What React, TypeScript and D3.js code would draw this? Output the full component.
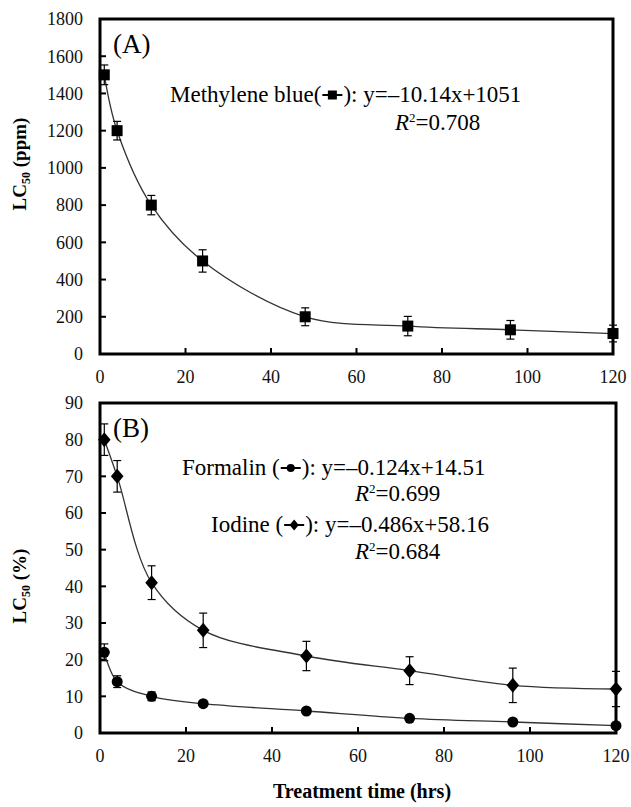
import React, { useEffect, useRef } from 'react';
import * as d3 from 'd3';

const hours = [1, 4, 12, 24, 48, 72, 96, 120];
const methyleneBlue = [1500, 1200, 800, 500, 200, 150, 130, 110];
const methyleneBlueErr = [53, 50, 52, 60, 48, 52, 50, 45];
const formalin = [22, 14, 10, 8, 6, 4, 3, 2];
const formalinErr = [2.3, 1.6, 1.2, 0.6, 0.6, 0.5, 0.5, 0.5];
const iodine = [80, 70, 41, 28, 21, 17, 13, 12];
const iodineErr = [4.3, 4.3, 4.6, 4.7, 4.0, 3.8, 4.7, 4.8];
const xTicks = [0, 20, 40, 60, 80, 100, 120];
const yTicksA = [0, 200, 400, 600, 800, 1000, 1200, 1400, 1600, 1800];
const yTicksB = [0, 10, 20, 30, 40, 50, 60, 70, 80, 90];

const FONT = "'Liberation Serif', 'Times New Roman', serif";

type Marker = 'square' | 'circle' | 'diamond';

function drawMarker(g: any, kind: Marker, x: number, y: number, s: number) {
  if (kind === 'square') {
    g.append('rect').attr('x', x - s / 2).attr('y', y - s / 2).attr('width', s).attr('height', s).attr('fill', '#000');
  } else if (kind === 'circle') {
    g.append('circle').attr('cx', x).attr('cy', y).attr('r', s / 2).attr('fill', '#000');
  } else {
    const w = s * 0.42, h = s * 0.5;
    g.append('path').attr('d', `M${x},${y - h}L${x + w},${y}L${x},${y + h}L${x - w},${y}Z`).attr('fill', '#000');
  }
}

export default function App() {
  const ref = useRef<SVGSVGElement>(null);

  useEffect(() => {
    const svg = d3.select(ref.current);
    svg.selectAll('*').remove();

    const panel = (
      x0: number, x1: number, y0: number, y1: number,
      yMax: number, yTicks: number[], letter: string
    ) => {
      const x = d3.scaleLinear().domain([0, 120]).range([x0, x1]);
      const y = d3.scaleLinear().domain([0, yMax]).range([y1, y0]);
      const g = svg.append('g');
      yTicks.forEach((t) => {
        if (t !== 0 && t !== yMax) g.append('line').attr('x1', x0).attr('x2', x0 + 6).attr('y1', y(t)).attr('y2', y(t)).attr('stroke', '#000').attr('stroke-width', 2);
        g.append('text').attr('x', x0 - 17).attr('y', y(t)).attr('dy', '0.35em').attr('text-anchor', 'end')
          .attr('font-family', FONT).attr('font-size', 18).attr('fill', '#111').text(String(t));
      });
      xTicks.forEach((t) => {
        if (t !== 0 && t !== 120) g.append('line').attr('x1', x(t)).attr('x2', x(t)).attr('y1', y1).attr('y2', y1 - 6).attr('stroke', '#000').attr('stroke-width', 2);
        g.append('text').attr('x', x(t)).attr('y', y1 + 29).attr('text-anchor', 'middle')
          .attr('font-family', FONT).attr('font-size', 18).attr('fill', '#111').text(String(t));
      });
      g.append('rect').attr('x', x0).attr('y', y0).attr('width', x1 - x0).attr('height', y1 - y0)
        .attr('fill', 'none').attr('stroke', '#000').attr('stroke-width', 3);
      g.append('text').attr('x', x0 + 13).attr('y', y0 + 34).attr('font-family', FONT).attr('font-size', 27).text(letter);
      return { x, y, g };
    };

    const series = (p: any, vals: number[], errs: number[], kind: Marker, size: number) => {
      const pts = hours.map((h, i) => [p.x(h), p.y(vals[i])] as [number, number]);
      const line = d3.line().curve(d3.curveCatmullRom.alpha(0.5));
      p.g.append('path').attr('d', line(pts)).attr('fill', 'none').attr('stroke', '#333').attr('stroke-width', 1.3);
      hours.forEach((h, i) => {
        const cx = p.x(h);
        const top = p.y(vals[i] + errs[i]);
        const bot = p.y(vals[i] - errs[i]);
        p.g.append('line').attr('x1', cx).attr('x2', cx).attr('y1', top).attr('y2', bot).attr('stroke', '#000').attr('stroke-width', 1.2);
        [top, bot].forEach((yy) => p.g.append('line').attr('x1', cx - 4).attr('x2', cx + 4).attr('y1', yy).attr('y2', yy).attr('stroke', '#000').attr('stroke-width', 1.2));
      });
      hours.forEach((h, i) => drawMarker(p.g, kind, p.x(h), p.y(vals[i]), size));
    };

    const LF = 23;
    const legend = (x0: number, yb: number, pre: string, post: string, kind: Marker, size: number) => {
      const t1 = svg.append('text').attr('x', x0).attr('y', yb).attr('font-family', FONT).attr('font-size', LF).text(pre);
      const w1 = (t1.node() as SVGTextElement).getComputedTextLength();
      const sx = x0 + w1 + 1, sw = 20, sy = yb - 7;
      svg.append('line').attr('x1', sx).attr('x2', sx + sw).attr('y1', sy).attr('y2', sy).attr('stroke', '#000').attr('stroke-width', 2);
      drawMarker(svg as any, kind, sx + sw / 2, sy, size);
      svg.append('text').attr('x', sx + sw + 1).attr('y', yb).attr('font-family', FONT).attr('font-size', LF).text(post);
    };

    const r2 = (x0: number, yb: number, val: string) => {
      const t = svg.append('text').attr('x', x0).attr('y', yb).attr('font-family', FONT).attr('font-size', LF);
      t.append('tspan').attr('font-style', 'italic').text('R');
      t.append('tspan').attr('font-size', 13).attr('dy', -8).text('2');
      t.append('tspan').attr('dy', 8).text('=' + val);
    };

    const pA = panel(100, 613, 19, 354, 1800, yTicksA, '(A)');
    series(pA, methyleneBlue, methyleneBlueErr, 'square', 11);

    const pB = panel(100, 616, 403, 733, 90, yTicksB, '(B)');
    series(pB, iodine, iodineErr, 'diamond', 15);
    series(pB, formalin, formalinErr, 'circle', 11);

    legend(170, 102, 'Methylene blue(', '): y=–10.14x+1051', 'square', 9);
    r2(395, 130, '0.708');
    legend(182, 475, 'Formalin (', '): y=–0.124x+14.51', 'circle', 8);
    r2(355, 501, '0.699');
    legend(211, 532, 'Iodine (', '): y=–0.486x+58.16', 'diamond', 11);
    r2(355, 559, '0.684');

    const yTitle = (cx: number, cy: number, unit: string) => {
      const t = svg.append('text').attr('transform', `translate(${cx},${cy}) rotate(-90)`).attr('text-anchor', 'middle')
        .attr('font-family', FONT).attr('font-size', 19).attr('font-weight', 'bold');
      t.append('tspan').text('LC');
      t.append('tspan').attr('font-size', 12).attr('dy', 4).text('50');
      t.append('tspan').attr('dy', -4).text(' ' + unit);
    };
    yTitle(26, 164, '(ppm)');
    yTitle(26, 586, '(%)');

    svg.append('text').attr('x', 362).attr('y', 798).attr('text-anchor', 'middle').attr('font-family', FONT)
      .attr('font-size', 20).attr('font-weight', 'bold').text('Treatment time (hrs)');
  }, []);

  return (
    <svg ref={ref} width={631} height={807} style={{ position: 'absolute', left: 0, top: 0, background: '#fff' }} />
  );
}
